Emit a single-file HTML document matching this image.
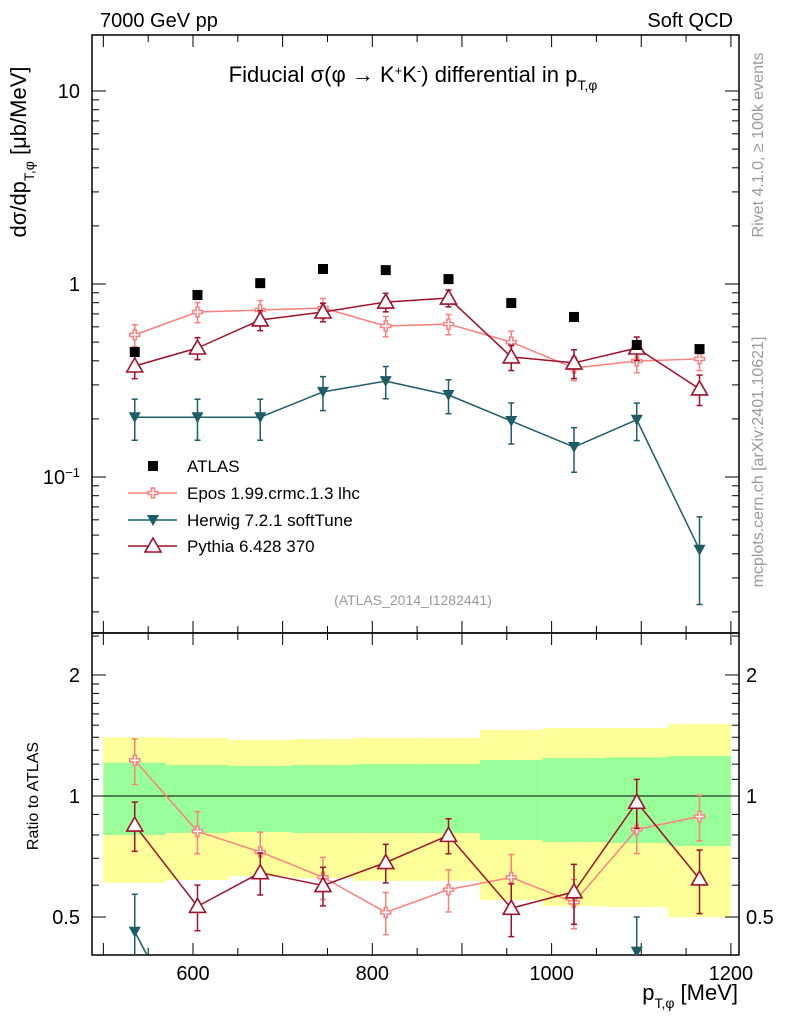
<!DOCTYPE html>
<html><head><meta charset="utf-8"><style>
html,body{margin:0;background:#fff;width:786px;height:1024px;overflow:hidden}
svg{display:block;font-family:"Liberation Sans",sans-serif}
</style></head><body>
<svg id="chart" width="786" height="1024" xmlns="http://www.w3.org/2000/svg">
<g id="bands"></g>
<g id="axes"></g>
<g id="series"></g>
<text x="100" y="27" font-size="20">7000 GeV pp</text>
<text x="733" y="27" font-size="20" text-anchor="end">Soft QCD</text>
<text x="413" y="82" font-size="22" text-anchor="middle">Fiducial σ(φ →  K<tspan baseline-shift="super" font-size="13">+</tspan>K<tspan baseline-shift="super" font-size="13">-</tspan>) differential in p<tspan baseline-shift="sub" font-size="14">T,φ</tspan></text>
<text transform="translate(26,152) rotate(-90)" font-size="22" text-anchor="middle">dσ/dp<tspan baseline-shift="sub" font-size="14">T,φ</tspan> [μb/MeV]</text>
<text transform="translate(38,796) rotate(-90)" font-size="16" text-anchor="middle">Ratio to ATLAS</text>
<text x="738" y="1000" font-size="22" text-anchor="end">p<tspan baseline-shift="sub" font-size="14">T,φ</tspan> [MeV]</text>
<text transform="translate(763,145) rotate(-90)" font-size="16" fill="#999" text-anchor="middle">Rivet 4.1.0, ≥ 100k events</text>
<text transform="translate(763,462) rotate(-90)" font-size="16" fill="#999" text-anchor="middle">mcplots.cern.ch [arXiv:2401.10621]</text>
<text x="413" y="605" font-size="14" fill="#999" text-anchor="middle">(ATLAS_2014_I1282441)</text>
<g id="legend"></g>
</svg>
<script>
const binLo=[500,570,640,710,780,850,920,990,1060,1130];
const binHi=[570,640,710,780,850,920,990,1060,1130,1200];
const centers=[535,605,675,745,815,885,955,1025,1095,1165];
const atlas=[0.444,0.877,1.01,1.196,1.18,1.06,0.797,0.675,0.483,0.46];
const epos=[0.545,0.716,0.733,0.751,0.606,0.62,0.5,0.367,0.399,0.409];
const eposErr=[0.13,0.12,0.12,0.12,0.12,0.12,0.14,0.14,0.13,0.13];
const herwig=[0.204,0.204,0.204,0.276,0.314,0.266,0.195,0.143,0.198,0.042];
const herwigErr=[0.24,0.24,0.24,0.2,0.19,0.2,0.24,0.26,0.22,0.48];
const pythia=[0.376,0.466,0.651,0.716,0.806,0.846,0.419,0.39,0.466,0.286];
const pythiaErr=[0.14,0.13,0.12,0.11,0.11,0.1,0.15,0.17,0.14,0.18];
const yelHi=[1.40,1.394,1.378,1.386,1.394,1.394,1.459,1.476,1.476,1.51];
const grnHi=[1.21,1.194,1.188,1.194,1.20,1.20,1.229,1.243,1.248,1.257];
const grnLo=[0.80,0.809,0.814,0.809,0.809,0.809,0.777,0.768,0.764,0.751];
const yelLo=[0.608,0.618,0.632,0.625,0.615,0.615,0.551,0.532,0.529,0.50];
const xTicks=[600,800,1000,1200];

const NS="http://www.w3.org/2000/svg";
const L=92,R=739,T=35,M=633,B=955;
const X=v=>193+(v-600)*0.8965;
const Y=v=>284-Math.log10(v)*193;
const YR=v=>796-Math.log10(v)*402;
function mk(p,tag,a){const e=document.createElementNS(NS,tag);for(const k in a)e.setAttribute(k,a[k]);p.appendChild(e);return e;}
const bands=document.getElementById('bands'),axes=document.getElementById('axes'),ser=document.getElementById('series'),leg=document.getElementById('legend');

for(let i=0;i<binLo.length;i++){
  const x1=X(binLo[i]),x2=X(binHi[i]);
  let r=mk(bands,'rect',{x:x1,y:YR(yelHi[i]),width:x2-x1,height:YR(yelLo[i])-YR(yelHi[i]),fill:'#ffff99'});
  
  
  r=mk(bands,'rect',{x:x1,y:YR(grnHi[i]),width:x2-x1,height:YR(grnLo[i])-YR(grnHi[i]),fill:'#99ff99'});
  
  
}
mk(axes,'line',{x1:L,x2:R,y1:YR(1),y2:YR(1),stroke:'#000','stroke-width':1});
let f=mk(axes,'rect',{x:L,y:T,width:R-L,height:M-T,fill:'none',stroke:'#000','stroke-width':1.5});


f=mk(axes,'rect',{x:L,y:M,width:R-L,height:B-M,fill:'none',stroke:'#000','stroke-width':1.5});


for(let v=500;v<=1200;v+=50){
  const x=X(v),len=(v%100===0)?12:7;
  for(const [y0,d] of [[M,-1],[T,1],[B,-1],[M,1]]) mk(axes,'line',{x1:x,x2:x,y1:y0,y2:y0+d*len,stroke:'#000'});
}
xTicks.forEach(v=>{const t=mk(axes,'text',{x:X(v),y:980,'font-size':20,'text-anchor':'middle'});t.textContent=v;

});
for(let e=-2;e<=1;e++)for(let m=1;m<10;m++){const v=m*Math.pow(10,e);const y=Y(v);if(y<T||y>M)continue;const len=m===1?14:7;
  mk(axes,'line',{x1:L,x2:L+len,y1:y,y2:y,stroke:'#000'});mk(axes,'line',{x1:R,x2:R-len,y1:y,y2:y,stroke:'#000'});}
[[10,'10'],[1,'1']].forEach(([v,s])=>{const t=mk(axes,'text',{x:80,y:Y(v)+7,'font-size':20,'text-anchor':'end'});t.textContent=s;

});
{const t=mk(axes,'text',{x:80,y:Y(0.1)+7,'font-size':20,'text-anchor':'end'});t.innerHTML='10<tspan baseline-shift="super" font-size="13">−1</tspan>';

}
const rt=[0.5,0.6,0.7,0.8,0.9,1,1.1,1.2,1.3,1.4,1.5,1.6,1.7,1.8,1.9,2,2.5];
rt.forEach(v=>{const y=YR(v);if(y<M||y>B)return;const len=(v===0.5||v===1||v===2)?14:7;
  mk(axes,'line',{x1:L,x2:L+len,y1:y,y2:y,stroke:'#000'});mk(axes,'line',{x1:R,x2:R-len,y1:y,y2:y,stroke:'#000'});});
[[2,'2'],[1,'1'],[0.5,'0.5']].forEach(([v,s])=>{
  let t=mk(axes,'text',{x:80,y:YR(v)+7,'font-size':20,'text-anchor':'end'});t.textContent=s;
  
  
  t=mk(axes,'text',{x:746,y:YR(v)+7,'font-size':20});t.textContent=s;
  
  });

function marker(g,type,x,y,col){
  if(type==='sq')return mk(g,'rect',{x:x-5,y:y-5,width:10,height:10,fill:'#000'});
  if(type==='cross')return mk(g,'path',{d:`M${x-1.5},${y-5}h3v3.5h3.5v3h-3.5v3.5h-3v-3.5h-3.5v-3h3.5z`,fill:'#fff',stroke:col,'stroke-width':1.5});
  if(type==='down')return mk(g,'path',{d:`M${x-6},${y-5}L${x+6},${y-5}L${x},${y+6}z`,fill:col});
  if(type==='up')return mk(g,'path',{d:`M${x},${y-8}L${x+8},${y+6}L${x-8},${y+6}z`,fill:'#fff',stroke:col,'stroke-width':1.6});
}
const cl=document.createElementNS(NS,'clipPath');cl.id='cm';mk(cl,'rect',{x:L,y:T,width:R-L,height:M-T});ser.appendChild(cl);
const cr=document.createElementNS(NS,'clipPath');cr.id='cr';mk(cr,'rect',{x:L,y:M,width:R-L,height:B-M});ser.appendChild(cr);
// clip polyline segments to [ylo,yhi]
function clipSegs(pts,ylo,yhi){
  const segs=[];
  for(let i=0;i<pts.length-1;i++){
    let [x1,y1]=pts[i],[x2,y2]=pts[i+1];
    const cut=(xa,ya,xb,yb,yc)=>[xa+(xb-xa)*(yc-ya)/(yb-ya),yc];
    if((y1>yhi&&y2>yhi)||(y1<ylo&&y2<ylo))continue;
    if(y1>yhi)[x1,y1]=cut(x1,y1,x2,y2,yhi); if(y1<ylo)[x1,y1]=cut(x1,y1,x2,y2,ylo);
    if(y2>yhi)[x2,y2]=cut(x2,y2,x1,y1,yhi); if(y2<ylo)[x2,y2]=cut(x2,y2,x1,y1,ylo);
    segs.push([x1,y1,x2,y2]);
  }
  return segs;
}
const cl2=(y,lo,hi)=>Math.max(lo,Math.min(hi,y));
function drawSeries(name,vals,err,col,type){
  const gm=mk(ser,'g',{'clip-path':'url(#cm)'});
  
  
  const gr=mk(ser,'g',{'clip-path':'url(#cr)'});
  
  
  const pm=[],pr=[];
  vals.forEach((v,i)=>{const x=X(centers[i]);pm.push([x,Y(v)]);pr.push([x,YR(v/atlas[i])]);});
  [[gm,pm,T,M],[gr,pr,M,B]].forEach(([g,pts,lo,hi])=>{
    clipSegs(pts,lo,hi).forEach(s=>mk(g,'line',{x1:s[0],y1:s[1],x2:s[2],y2:s[3],stroke:col,'stroke-width':1.5}));
  });
  vals.forEach((v,i)=>{const x=X(centers[i]);
    [[gm,Y,v,T,M],[gr,YR,v/atlas[i],M,B]].forEach(([g,F,w,lo,hi])=>{
      let y1=F(w*(1+err[i])),y2=F(w*(1-err[i]));
      if(y1>hi||y2<lo)return;
      const c1=cl2(y1,lo,hi),c2=cl2(y2,lo,hi);
      mk(g,'line',{x1:x,x2:x,y1:c1,y2:c2,stroke:col,'stroke-width':1.5});
      if(y1===c1)mk(g,'line',{x1:x-3,x2:x+3,y1:y1,y2:y1,stroke:col,'stroke-width':1.5});
      if(y2===c2)mk(g,'line',{x1:x-3,x2:x+3,y1:y2,y2:y2,stroke:col,'stroke-width':1.5});
      const yc=F(w);
      if(yc<lo-10||yc>hi+10)return;
      const m=marker(g,type,x,yc,col);
      
      
    });});
}
drawSeries('epos',epos,eposErr,'#ff7f7f','cross');
drawSeries('herwig',herwig,herwigErr,'#1d5d69','down');
drawSeries('pythia',pythia,pythiaErr,'#a0102a','up');
atlas.forEach((v,i)=>{const m=marker(ser,'sq',X(centers[i]),Y(v));
  
  });
const items=[['ATLAS','sq','#000',466],['Epos 1.99.crmc.1.3 lhc','cross','#ff7f7f',493],['Herwig 7.2.1 softTune','down','#1d5d69',520],['Pythia 6.428 370','up','#a0102a',546]];
items.forEach(([lab,type,col,y])=>{
  const g=mk(leg,'g',{});
  
  
  if(type!=='sq')mk(g,'line',{x1:128,x2:177,y1:y,y2:y,stroke:col,'stroke-width':1.5});
  marker(g,type,153,y,col);
  const t=mk(g,'text',{x:187,y:y+6,'font-size':17});t.textContent=lab;
});
</script>
</body></html>
